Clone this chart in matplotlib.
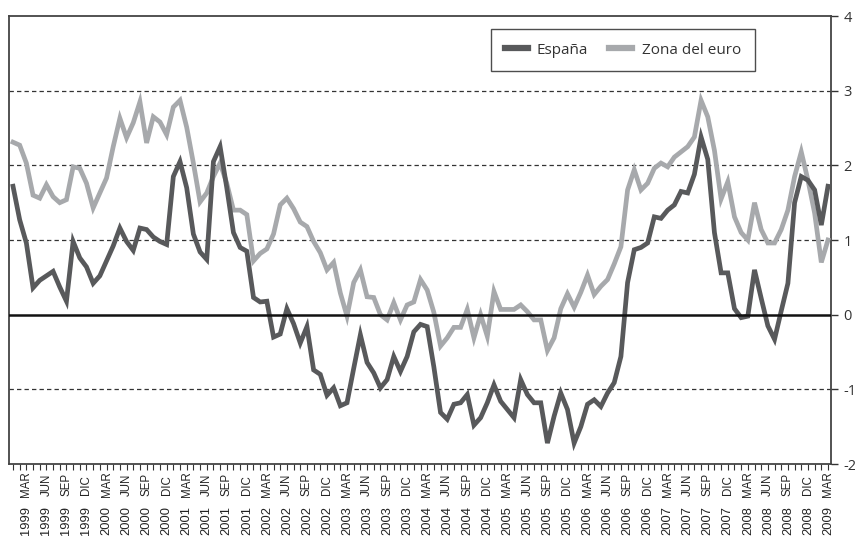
import matplotlib
matplotlib.use("Agg")
import matplotlib.pyplot as plt
from matplotlib.transforms import blended_transform_factory

# Monthly data, 1999 JAN .. 2009 MAR (123 months)
espana = [1.72, 1.27, 0.96, 0.36, 0.46, 0.52, 0.58, 0.37, 0.18, 0.98,
          0.76, 0.64, 0.42, 0.52, 0.72, 0.92, 1.16, 0.98, 0.86, 1.16,
          1.14, 1.04, 0.98, 0.94, 1.85, 2.05, 1.70, 1.08, 0.84, 0.74,
          2.05, 2.25, 1.70, 1.10, 0.90, 0.85, 0.23, 0.17, 0.18, -0.30,
          -0.26, 0.08, -0.12, -0.38, -0.16, -0.74, -0.80, -1.08, -0.98, -1.22,
          -1.18, -0.72, -0.27, -0.64, -0.78, -0.98, -0.87, -0.56, -0.76, -0.56,
          -0.23, -0.13, -0.16, -0.70, -1.31, -1.40, -1.20, -1.18, -1.07, -1.48,
          -1.38, -1.18, -0.94, -1.16, -1.27, -1.38, -0.87, -1.07, -1.18, -1.18,
          -1.72, -1.36, -1.05, -1.27, -1.72, -1.50, -1.20, -1.14, -1.23, -1.05,
          -0.91, -0.56, 0.43, 0.87, 0.90, 0.96, 1.31, 1.29, 1.40, 1.47,
          1.65, 1.63, 1.88, 2.38, 2.08, 1.10, 0.56, 0.56, 0.08, -0.04,
          -0.02, 0.60, 0.22, -0.15, -0.33, 0.05, 0.42, 1.50, 1.85, 1.80,
          1.67, 1.20, 1.72]

zona_euro = [2.31, 2.27, 2.03, 1.60, 1.56, 1.74, 1.58, 1.50, 1.54, 1.98,
             1.96, 1.76, 1.43, 1.63, 1.83, 2.25, 2.63, 2.37, 2.57, 2.85,
             2.30, 2.65, 2.58, 2.41, 2.78, 2.87, 2.51, 2.03, 1.51, 1.63,
             1.85, 2.03, 1.76, 1.40, 1.40, 1.34, 0.72, 0.82, 0.88, 1.08,
             1.47, 1.56, 1.42, 1.24, 1.18, 0.98, 0.83, 0.60, 0.70, 0.29,
             -0.02, 0.43, 0.60, 0.24, 0.23, 0.00, -0.07, 0.16, -0.07, 0.13,
             0.17, 0.47, 0.33, 0.03, -0.42, -0.31, -0.17, -0.17, 0.07, -0.31,
             0.00, -0.29, 0.31, 0.07, 0.07, 0.07, 0.13, 0.04, -0.07, -0.07,
             -0.48, -0.31, 0.08, 0.28, 0.10, 0.30, 0.53, 0.27, 0.38, 0.47,
             0.68, 0.91, 1.67, 1.94, 1.67, 1.76, 1.96, 2.03, 1.98, 2.11,
             2.18, 2.25, 2.38, 2.87, 2.65, 2.20, 1.55, 1.78, 1.31, 1.10,
             1.00, 1.50, 1.14, 0.96, 0.96, 1.14, 1.40, 1.85, 2.18, 1.80,
             1.36, 0.70, 1.00]

tick_months = ["MAR", "JUN", "SEP", "DIC"]
tick_years = [str(y) for y in range(1999, 2010)]
y_ticks = [-2, -1, 0, 1, 2, 3, 4]

# build label positions (every 3 months starting 1999 MAR)
lab_pos, lab_mon, lab_year = [], [], []
idx = 2
for yr in tick_years:
    for m in tick_months:
        if idx > len(espana) - 1:
            break
        lab_pos.append(idx)
        lab_mon.append(m)
        lab_year.append(yr)
        idx += 3

fig = plt.figure(figsize=(8.55, 5.37), dpi=100)
ax = fig.add_axes([9/855, 1 - 464/537, 822/855, 448/537])

x = list(range(len(espana)))
c_es = "#58595b"
c_eu = "#a7a9ac"
ax.plot(x, zona_euro, color=c_eu, lw=3.4, solid_joinstyle="miter", label="Zona del euro", zorder=3)
ax.plot(x, espana, color=c_es, lw=3.4, solid_joinstyle="miter", label="España", zorder=4)

ax.set_xlim(-0.6, 122.45)
ax.set_ylim(-2, 4)

for g in [-1, 1, 2, 3]:
    ax.axhline(g, color="#333333", lw=0.9, ls=(0, (3.5, 2.5)), zorder=1)
ax.axhline(0, color="#111111", lw=1.8, zorder=5)

ax.yaxis.tick_right()
ax.set_yticks(y_ticks)
ax.set_yticklabels([str(v) for v in y_ticks], fontsize=10.5, color="#333333",
                   family="Open Sans")
ax.tick_params(axis="y", direction="out", length=5, width=1, color="#333333", pad=4)

ax.set_xticks(range(len(espana)))
ax.set_xticklabels([])
ax.tick_params(axis="x", direction="out", length=4, width=0.8, color="#333333")

for s in ax.spines.values():
    s.set_color("#444444")
    s.set_linewidth(1.3)

tr = blended_transform_factory(ax.transData, ax.transAxes)
for p, m, yr in zip(lab_pos, lab_mon, lab_year):
    ax.text(p, -0.046, m, transform=tr, rotation=90, ha="center", va="center",
            fontsize=8.3, family="Liberation Sans", color="#222222")
    ax.text(p, -0.127, yr, transform=tr, rotation=90, ha="center", va="center",
            fontsize=9.3, family="Liberation Sans", color="#222222")

handles, labels = ax.get_legend_handles_labels()
leg = ax.legend(handles[::-1], labels[::-1], loc="upper right",
                bbox_to_anchor=(0.907, 0.971), ncol=2, frameon=True,
                fancybox=False, borderaxespad=0, handlelength=1.5,
                handletextpad=0.6, columnspacing=1.4, borderpad=0.9,
                prop={"family": "Open Sans", "size": 11})
leg.get_frame().set_edgecolor("#222222")
leg.get_frame().set_linewidth(1.0)
for t in leg.get_texts():
    t.set_color("#333333")
for h in leg.get_lines():
    h.set_linewidth(4.5)

fig.savefig("out.png", dpi=100)
